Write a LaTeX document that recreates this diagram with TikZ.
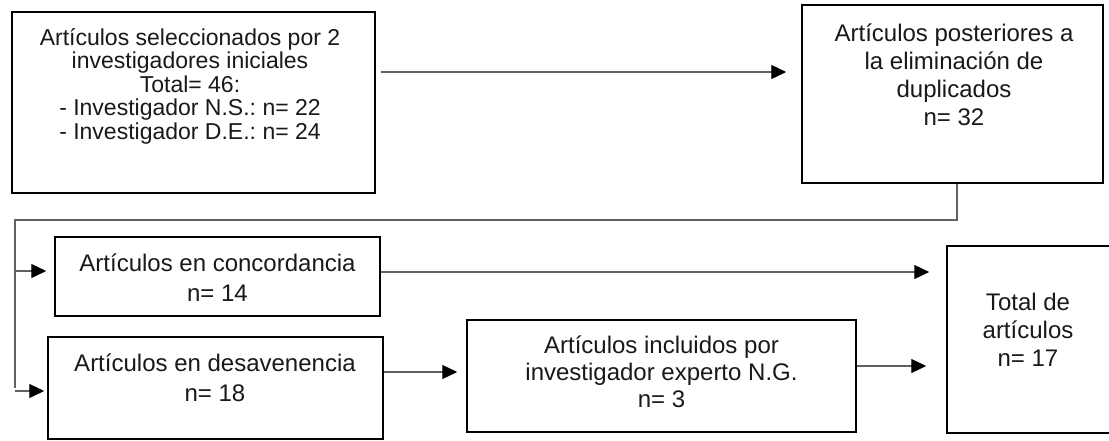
\documentclass[tikz,border=0pt]{standalone}
\usepackage{fontspec}
\setmainfont{Liberation Sans}
\usetikzlibrary{arrows.meta}
\frenchspacing
\begin{document}
\begin{tikzpicture}[x=1pt,y=-1pt,
  box/.style={draw=black, line width=1.5pt, inner sep=0pt},
  txt/.style={align=center, inner sep=0pt, text=black!90},
  wire/.style={draw=black!62, line width=1.2pt},
  conn/.style={wire, -{Triangle[length=15pt,width=14pt,color=black,fill=black]}}]
\fill[white] (0,0) rectangle (1109,440);
\useasboundingbox (0,0) rectangle (1109,440);
% boxes
\node[box, minimum width=363pt, minimum height=181pt] (b1) at (193.5,102.5) {};
\node[box, minimum width=301pt, minimum height=178pt] (b2) at (952.5,94) {};
\node[box, minimum width=325pt, minimum height=79pt]  (b3) at (217.5,276.5) {};
\node[box, minimum width=335pt, minimum height=102pt] (b4) at (215.5,388) {};
\node[box, minimum width=389pt, minimum height=112pt] (b5) at (661.5,376) {};
\node[box, minimum width=165pt, minimum height=187pt] (b6) at (1029.5,339.5) {};
% texts
\node[txt, font=\fontsize{23}{23.5}\selectfont] (t1) at (190,86)
  {Artículos seleccionados por 2\\investigadores iniciales\\Total= 46:\\- Investigador N.S.: n= 22\\- Investigador D.E.: n= 24};
\node[txt, font=\fontsize{24}{28}\selectfont] (t2) at (954,75)
  {Artículos posteriores a\\la eliminación de\\duplicados\\n= 32};
\node[txt, font=\fontsize{24}{30}\selectfont] (t3) at (217.5,278)
  {Artículos en concordancia\\n= 14};
\node[txt, font=\fontsize{24}{30}\selectfont] (t4) at (215,378)
  {Artículos en desavenencia\\n= 18};
\node[txt, font=\fontsize{24}{27}\selectfont] (t5) at (661.5,372)
  {Artículos incluidos por\\investigador experto N.G.\\n= 3};
\node[txt, font=\fontsize{24}{28}\selectfont] (t6) at (1028,330)
  {Total de\\artículos\\n= 17};
% connectors
\coordinate (j1) at (15,220);
\draw[conn, shorten <=5pt, shorten >=15pt] ([yshift=30.5pt]b1.east) -- ([yshift=30.5pt]b1.east -| b2.west);
\draw[wire] ([xshift=4.5pt]b2.south) |- (j1) -- (j1 |- b4.west);
\draw[conn, shorten >=8pt] ([yshift=5.5pt]b3.west -| j1) -- ([yshift=5.5pt]b3.west);
\draw[conn, shorten >=3pt] ([yshift=-3pt]b4.west -| j1) -- ([yshift=-3pt]b4.west);
\draw[conn, shorten >=17pt] ([yshift=4.5pt]b3.east) -- ([yshift=4.5pt]b3.east -| b6.west);
\draw[conn, shorten >=9pt] ([yshift=16pt]b4.east) -- ([yshift=16pt]b4.east -| b5.west);
\draw[conn, shorten >=20pt] ([yshift=10pt]b5.east) -- ([yshift=10pt]b5.east -| b6.west);
\end{tikzpicture}
\end{document}
